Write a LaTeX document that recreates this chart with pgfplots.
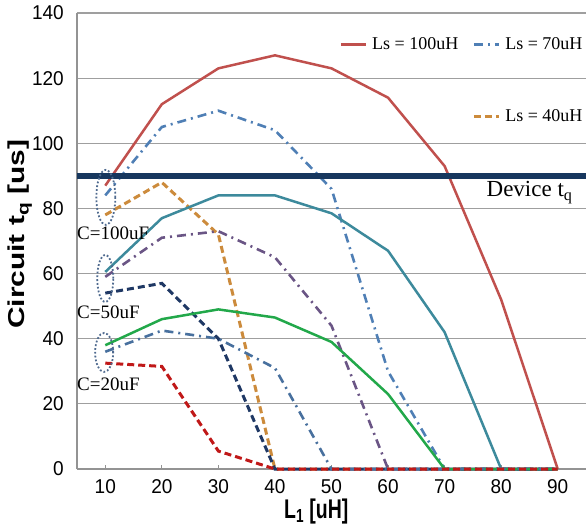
\documentclass[border=0pt]{standalone}
\usepackage{fontspec}
\setmainfont{Liberation Serif}
\newfontfamily\ticksf[FakeStretch=0.95]{Liberation Sans}
\newfontfamily\ylabsf[FakeStretch=1.3]{Liberation Sans}
\newfontfamily\xlabsf[FakeStretch=0.72]{Liberation Sans}
\usepackage{pgfplots}
\pgfplotsset{compat=1.18}

\definecolor{rA}{HTML}{C0504D}
\definecolor{bA}{HTML}{4F7FB5}
\definecolor{oA}{HTML}{CC8B3C}
\definecolor{tB}{HTML}{3D8A9C}
\definecolor{pB}{HTML}{6A5585}
\definecolor{nB}{HTML}{1F3864}
\definecolor{gC}{HTML}{22A84A}
\definecolor{bC}{HTML}{48709E}
\definecolor{rC}{HTML}{C01818}
\definecolor{dev}{HTML}{17375E}
\definecolor{ring}{HTML}{4F6A8F}

\pgfplotsset{
  ls100/.style={line width=2.5pt},
  ls70/.style={line width=2.6pt, dash pattern=on 9pt off 5pt on 2pt off 5pt},
  ls40/.style={line width=3pt, dash pattern=on 7pt off 4pt},
}

\begin{document}
\begin{tikzpicture}
\path[use as bounding box] (-77pt,-58pt) rectangle (509pt,469pt);
\begin{axis}[
  at={(0,0)}, anchor=south west,
  scale only axis, width=509pt, height=456pt,
  xmin=5, xmax=95, ymin=0, ymax=140,
  xtick={10,20,...,90}, ytick={0,20,...,140},
  axis x line=bottom, axis y line=left,
  axis line style={-, draw=gray!85, line width=1.3pt},
  ymajorgrids, grid style={draw=gray!75, line width=1.2pt},
  tick align=inside, major tick length=4pt,
  xtick style={draw=gray!85, line width=1pt},
  ytick style={draw=none},
  /pgf/number format/assume math mode=true,
  tick label style={font=\ticksf\fontsize{20}{20}\selectfont, inner sep=0pt},
  yticklabel style={xshift=-13pt},
  xticklabel style={yshift=-10pt},
  xlabel={L\textsubscript{1} [uH]},
  ylabel={Circuit t\textsubscript{q} [us]},
  xlabel style={font=\xlabsf\bfseries\fontsize{27}{27}\selectfont, at={(axis description cs:0.47,-0.093)}, anchor=center},
  ylabel style={font=\ylabsf\bfseries\fontsize{23}{23}\selectfont, at={(axis description cs:-0.112,0.515)}, anchor=center},
  clip=false,
  legend columns=2,
  legend style={at={(axis cs:51.4,133)}, anchor=north west, draw=none, fill=none,
    inner sep=0pt, font=\fontsize{18}{20}\selectfont, row sep=54pt,
    /tikz/every odd column/.append style={column sep=3pt},
    /tikz/every even column/.append style={column sep=12pt}},
  legend image code/.code={\draw[#1] (0pt,0pt) -- (25pt,0pt);},
]
% C = 100uF
\addplot[forget plot, rA, ls100] coordinates {(10,87) (20,112) (30,123) (40,127) (50,123) (60,114) (70,93) (80,52) (90,0)};
\addplot[forget plot, bA, ls70] coordinates {(10,84) (20,105) (30,110) (40,104) (50,86) (60,30) (70,0) (80,0) (90,0)};
\addplot[forget plot, oA, ls40] coordinates {(10,78) (20,88) (30,72) (40,0) (50,0) (60,0) (70,0) (80,0) (90,0)};
% C = 50uF
\addplot[forget plot, tB, ls100] coordinates {(10,60.5) (20,77) (30,84) (40,84) (50,78.5) (60,67) (70,42) (80,0) (90,0)};
\addplot[forget plot, pB, ls70] coordinates {(10,59) (20,71) (30,73) (40,65) (50,44) (60,0) (70,0) (80,0) (90,0)};
\addplot[forget plot, nB, ls40] coordinates {(10,54) (20,57) (30,40) (40,0) (50,0) (60,0) (70,0) (80,0) (90,0)};
% C = 20uF
\addplot[forget plot, gC, ls100] coordinates {(10,38) (20,46) (30,49) (40,46.5) (50,39) (60,23) (70,0) (80,0) (90,0)};
\addplot[forget plot, bC, ls70] coordinates {(10,36) (20,42.5) (30,40) (40,31) (50,0) (60,0) (70,0) (80,0) (90,0)};
\addplot[forget plot, rC, ls40] coordinates {(10,32.5) (20,31.5) (30,5.5) (40,0) (50,0) (60,0) (70,0) (80,0) (90,0)};
% device tq
\addplot[forget plot, dev, line width=6.5pt] coordinates {(5,90) (95,90)};

\addlegendimage{rA, ls100}\addlegendentry{Ls = 100uH}
\addlegendimage{bA, ls70}\addlegendentry{Ls = 70uH}
\addlegendimage{empty legend}\addlegendentry{}
\addlegendimage{oA, ls40}\addlegendentry{Ls = 40uH}

\draw[ring, line width=1.8pt, dotted] (axis cs:10.1,83.4) ellipse [x radius=9.5pt, y radius=27.5pt];
\draw[ring, line width=1.8pt, dotted] (axis cs:10,58.5) ellipse [x radius=8pt, y radius=23.5pt];
\draw[ring, line width=1.8pt, dotted] (axis cs:9.8,35.8) ellipse [x radius=9pt, y radius=19.5pt];

\node[anchor=west, inner sep=0pt, font=\fontsize{19}{19}\selectfont] at (axis cs:5,72.5) {C=100uF};
\node[anchor=west, inner sep=0pt, font=\fontsize{19}{19}\selectfont] at (axis cs:5,48.1) {C=50uF};
\node[anchor=west, inner sep=0pt, font=\fontsize{19}{19}\selectfont] at (axis cs:5,26.1) {C=20uF};
\node[anchor=west, inner sep=0pt, font=\fontsize{23}{23}\selectfont] at (axis cs:77.4,84.9) {Device t\textsubscript{q}};
\end{axis}
\end{tikzpicture}
\end{document}
